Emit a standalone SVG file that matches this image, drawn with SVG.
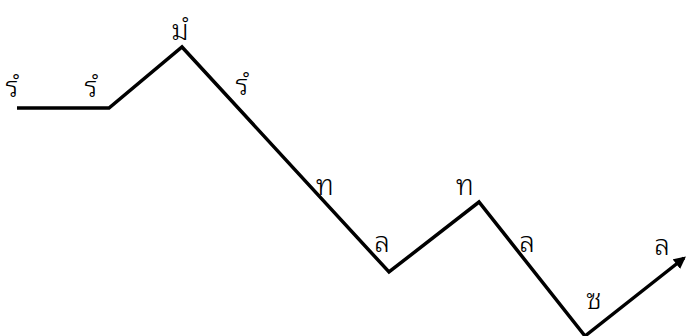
<svg xmlns="http://www.w3.org/2000/svg" width="689" height="336" viewBox="0 0 689 336">
<style>
.lbl{font-family:"Noto Sans Thai Looped","Loma","Garuda","Noto Sans Thai","Noto Sans",sans-serif;font-size:28px;font-weight:300;fill:#000;text-anchor:middle}
.ln{fill:none;stroke:#000;stroke-width:3.5;stroke-linejoin:miter}
</style>
<defs>
<marker id="ah" viewBox="0 0 10 10" refX="8" refY="5" markerWidth="3.5" markerHeight="3.5" orient="auto" markerUnits="strokeWidth">
<path d="M0,0 L10,5 L0,10 z" fill="#000"/>
</marker>
</defs>
<rect width="689" height="336" fill="#fff"/>
<g id="connectors">
<polyline class="ln" points="17,108 109,108 182,47 389,272 479,202 585,336 684,258" marker-end="url(#ah)"/>
</g>
<g id="labels">
<text class="lbl" x="12" y="97">รํ</text>
<text class="lbl" x="91" y="97">รํ</text>
<text class="lbl" x="180" y="40">มํ</text>
<text class="lbl" x="242" y="95">รํ</text>
<text class="lbl" x="325" y="195">ท</text>
<text class="lbl" x="382" y="252">ล</text>
<text class="lbl" x="465" y="195">ท</text>
<text class="lbl" x="527" y="252">ล</text>
<text class="lbl" x="594" y="309">ซ</text>
<text class="lbl" x="662" y="255">ล</text>
</g>
</svg>
